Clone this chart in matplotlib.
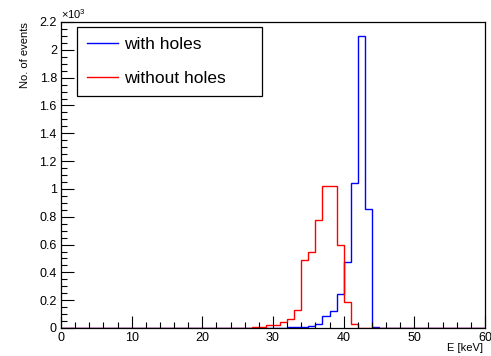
import numpy as np
import matplotlib.pyplot as plt
from matplotlib.ticker import MultipleLocator, FuncFormatter

plt.rcParams['font.family'] = ['Liberation Sans', 'DejaVu Sans']
plt.rcParams['mathtext.default'] = 'regular'

# energy binning: 1 keV bins from 0 to 60 keV
edges = np.arange(0, 61, 1)

# counts per bin, with holes (blue)
with_holes = np.zeros(60)
with_holes[26:34] = [1, 1, 2, 2, 3, 3, 4, 5]
with_holes[34:45] = [8, 15, 28, 85, 125, 245, 478, 1042, 2102, 854, 8]

# counts per bin, without holes (red)
without_holes = np.zeros(60)
without_holes[26:42] = [3, 4, 5, 22, 22, 41, 67, 132, 490, 550, 778,
                        1020, 1020, 598, 187, 30]

fig = plt.figure(figsize=(4.91, 3.56), dpi=100)
ax = fig.add_axes([61 / 491, 1 - 328 / 356, 424 / 491, 306 / 356])

ax.stairs(with_holes, edges, color='#0000ff', lw=1.0, label='with holes')
ax.stairs(without_holes, edges, color='#ff0000', lw=1.0, label='without holes')

ax.set_xlim(0, 60)
ax.set_ylim(0, 2200)

ax.xaxis.set_major_locator(MultipleLocator(10))
ax.xaxis.set_minor_locator(MultipleLocator(2))
ax.yaxis.set_major_locator(MultipleLocator(200))
ax.yaxis.set_minor_locator(MultipleLocator(50))
ax.yaxis.set_major_formatter(FuncFormatter(lambda v, p: '%g' % (v / 1000)))

ax.tick_params(which='both', direction='in', top=False, right=False,
               labelsize=9, width=0.8)
ax.tick_params(which='major', length=9, pad=3)
ax.tick_params(which='minor', length=4.5)
for s in ax.spines.values():
    s.set_linewidth(0.9)

ax.text(0.0, 1.002, '×10$^{3}$', transform=ax.transAxes,
        ha='left', va='bottom', fontsize=8)

fig.text(25.5 / 491, 1 - 22 / 356, 'No. of events', rotation=90,
         ha='center', va='top', fontsize=8)
fig.text(483 / 491, 1 - 348 / 356, 'E [keV]', ha='right', va='center',
         fontsize=8)

leg = ax.legend(loc='upper left', bbox_to_anchor=(0.038, 0.758, 0.435, 0.227),
                mode='expand', borderaxespad=0, fontsize=12.5,
                handlelength=1.8, handletextpad=0.35, labelspacing=1.1,
                borderpad=0.58, fancybox=False, framealpha=1,
                edgecolor='black')
leg.get_frame().set_linewidth(0.9)

fig.savefig('out.png', dpi=100)
